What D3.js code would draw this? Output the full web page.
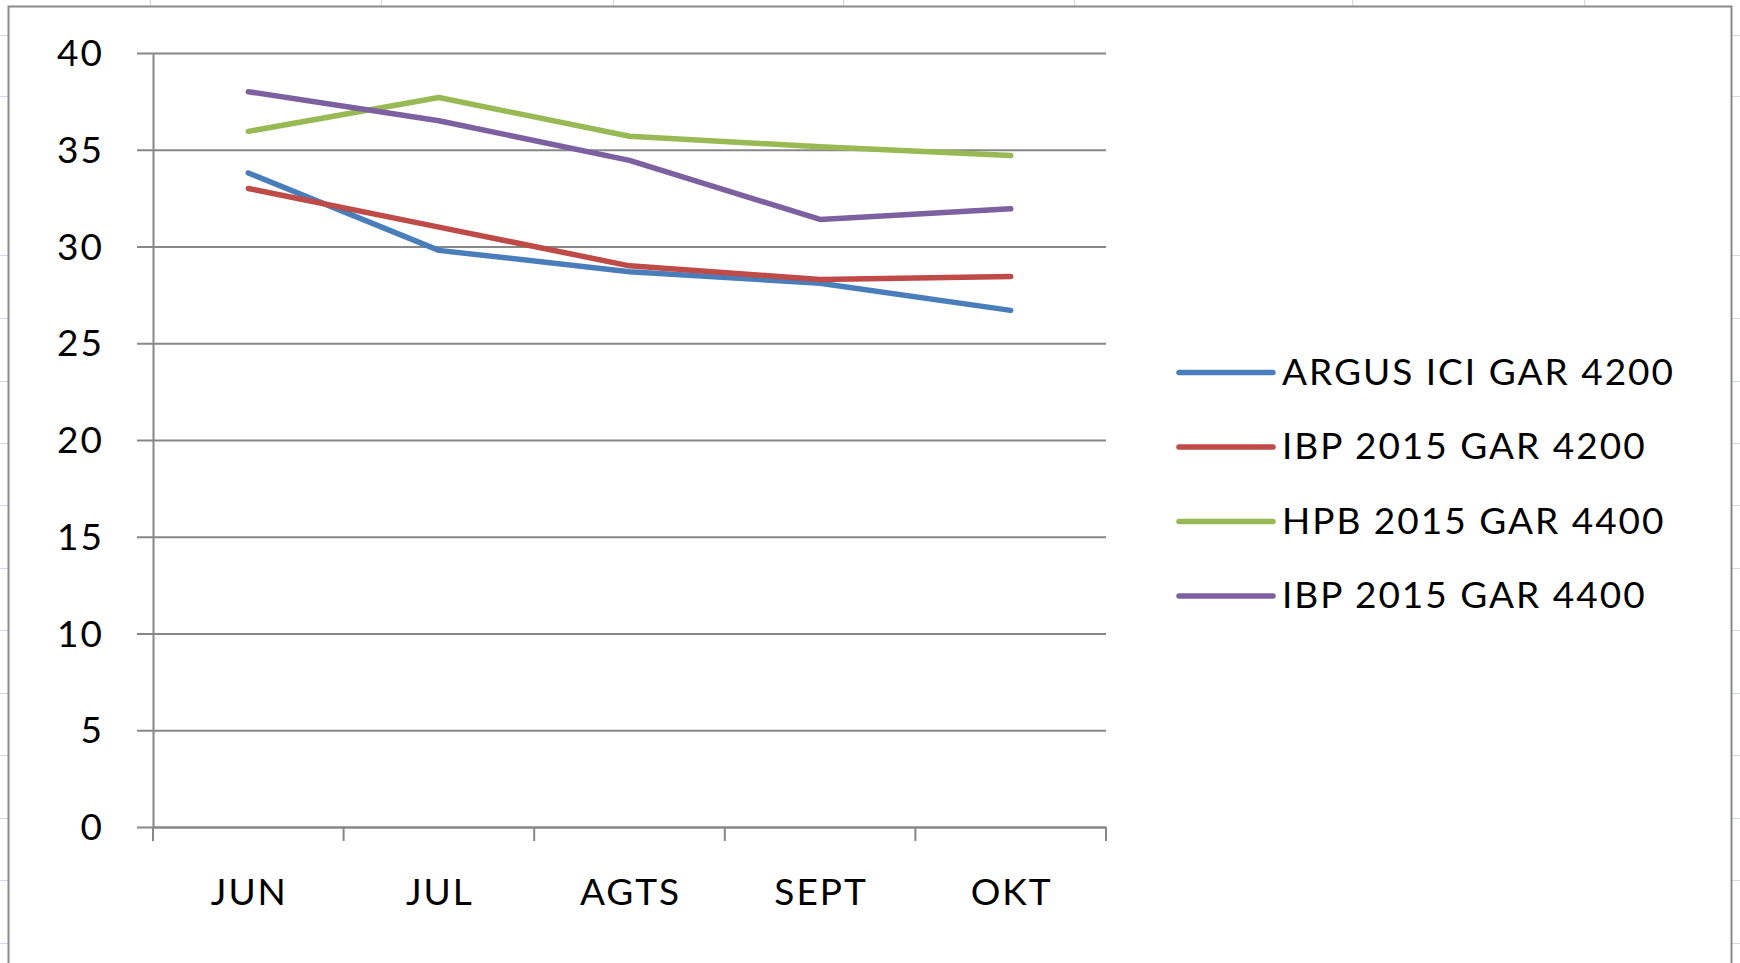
<!DOCTYPE html>
<html>
<head>
<meta charset="utf-8">
<script src="https://cdn.jsdelivr.net/npm/d3@7"></script>
<style>
  html, body { margin: 0; padding: 0; background: #fff; }
  svg { display: block; }
  text { font-family: Lato, "Open Sans", sans-serif; fill: #000; }
</style>
</head>
<body>
<svg id="chart" width="1740" height="963"></svg>
<script>
// chart data
var months = ["JUN", "JUL", "AGTS", "SEPT", "OKT"];
var argusIci4200 = [33.8, 29.8, 28.7, 28.1, 26.7];
var ibp4200 = [33.0, 31.0, 29.0, 28.3, 28.45];
var hpb4400 = [35.95, 37.7, 35.7, 35.15, 34.7];
var ibp4400 = [38.0, 36.5, 34.45, 31.4, 31.95];
var seriesNames = ["ARGUS ICI GAR 4200", "IBP 2015 GAR 4200", "HPB 2015 GAR 4400", "IBP 2015 GAR 4400"];
var seriesColors = ["#4a7ebb", "#be4b48", "#98b954", "#7d60a0"];
var yTicks = [0, 5, 10, 15, 20, 25, 30, 35, 40];

// spreadsheet cell lines behind the chart object
var cellCols = [150, 381, 613, 843, 1074, 1352, 1584];
var cellRows = [35, 96, 255, 318, 381, 443, 505, 568, 630, 693, 755, 818, 880, 943];

var svg = d3.select("#chart"),
    width = +svg.attr("width"),
    height = +svg.attr("height");

var cells = svg.append("g").attr("stroke", "#d0d7e5").attr("stroke-width", 1);
cellCols.forEach(function(cx) {
  cells.append("line").attr("x1", cx + 0.5).attr("x2", cx + 0.5).attr("y1", 0).attr("y2", height);
});
cellRows.forEach(function(cy) {
  cells.append("line").attr("x1", 0).attr("x2", width).attr("y1", cy + 0.5).attr("y2", cy + 0.5);
});

// chart object frame
svg.append("rect")
  .attr("x", 8.5).attr("y", 6.5)
  .attr("width", 1723).attr("height", 1000)
  .attr("fill", "#fff")
  .attr("stroke", "#8a8a8a")
  .attr("stroke-width", 2);

var plot = { left: 153, right: 1106, top: 53, bottom: 827 };

var x = d3.scaleBand()
  .domain(months)
  .range([plot.left, plot.right])
  .padding(0);

var y = d3.scaleLinear()
  .domain([0, 40])
  .range([plot.bottom, plot.top]);

// gridlines
svg.append("g")
  .attr("transform", "translate(" + plot.left + ",0)")
  .call(d3.axisLeft(y).tickValues(yTicks).tickSize(-(plot.right - plot.left)).tickFormat(""))
  .call(function(g) { g.select(".domain").remove(); })
  .selectAll("line")
  .attr("stroke", "#878787")
  .attr("stroke-width", 2);

// y axis with outer ticks and labels
var yAxis = svg.append("g")
  .attr("transform", "translate(" + plot.left + ",0)")
  .call(d3.axisLeft(y).tickValues(yTicks).tickSize(16).tickPadding(33).tickSizeOuter(0));
yAxis.select(".domain").attr("stroke", "#878787").attr("stroke-width", 2);
yAxis.selectAll(".tick line").attr("stroke", "#878787").attr("stroke-width", 2);
yAxis.selectAll(".tick text")
  .attr("font-size", 37)
  .attr("letter-spacing", 2)
  .attr("dy", "0.34em")
  .attr("fill", "#000");

// x axis: line, boundary ticks, centred labels
var xAxis = svg.append("g")
  .attr("transform", "translate(0," + plot.bottom + ")")
  .call(d3.axisBottom(x).tickSize(0).tickPadding(52).tickSizeOuter(0));
xAxis.select(".domain").attr("stroke", "#878787").attr("stroke-width", 2);
xAxis.selectAll(".tick text")
  .attr("font-size", 37)
  .attr("letter-spacing", 2)
  .attr("dx", 1)
  .attr("fill", "#000");

var bounds = months.map(function(m) { return x(m); }).concat([x.range()[1]]);
svg.append("g")
  .selectAll("line")
  .data(bounds)
  .join("line")
  .attr("x1", function(d) { return d; })
  .attr("x2", function(d) { return d; })
  .attr("y1", plot.bottom)
  .attr("y2", plot.bottom + 14)
  .attr("stroke", "#878787")
  .attr("stroke-width", 2);

// series lines
var allSeries = [argusIci4200, ibp4200, hpb4400, ibp4400];
var line = d3.line()
  .x(function(d, i) { return x(months[i]) + x.bandwidth() / 2; })
  .y(function(d) { return y(d); });

svg.append("g")
  .selectAll("path")
  .data(allSeries)
  .join("path")
  .attr("d", line)
  .attr("fill", "none")
  .attr("stroke", function(d, i) { return seriesColors[i]; })
  .attr("stroke-width", 5.5)
  .attr("stroke-linejoin", "round")
  .attr("stroke-linecap", "round");

// legend
var legend = svg.append("g");
seriesNames.forEach(function(name, i) {
  var ly = 372.5 + i * 74.5;
  legend.append("line")
    .attr("x1", 1179).attr("x2", 1273)
    .attr("y1", ly).attr("y2", ly)
    .attr("stroke", seriesColors[i])
    .attr("stroke-width", 5.5)
    .attr("stroke-linecap", "round");
  legend.append("text")
    .attr("x", 1282)
    .attr("y", ly + 12)
    .attr("font-size", 37)
    .attr("letter-spacing", 2)
    .text(name);
});
</script>
</body>
</html>
